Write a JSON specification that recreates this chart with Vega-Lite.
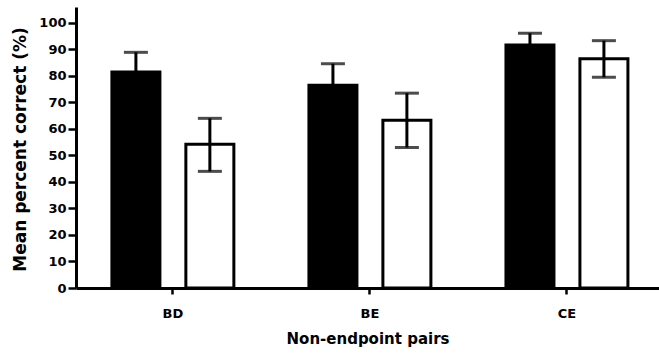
{
  "$schema": "https://vega.github.io/schema/vega-lite/v6.json",
  "width": 583,
  "height": 281,
  "autosize": {"type": "none"},
  "padding": {"left": 76, "top": 7, "right": 0, "bottom": 66},
  "background": "white",
  "config": {
    "view": {"stroke": null},
    "font": "DejaVu Sans",
    "axisY": {
      "tickCount": 11,
      "labelOverlap": false,
      "labelFont": "DejaVu Sans",
      "labelFontWeight": "bold",
      "labelFontSize": 13,
      "labelColor": "black",
      "labelPadding": 2,
      "tickSize": 8,
      "tickWidth": 2.5,
      "tickColor": "black",
      "domainWidth": 3,
      "domainColor": "black",
      "grid": false,
      "titleFont": "DejaVu Sans",
      "titleFontWeight": "bold",
      "titleFontSize": 17,
      "titleColor": "black",
      "titleAngle": -90,
      "titleBaseline": "middle",
      "titleAlign": "center",
      "titleX": -56,
      "titleY": 142
    },
    "axisX": {
      "labelAngle": 0,
      "labelFont": "DejaVu Sans",
      "labelFontWeight": "bold",
      "labelFontSize": 13,
      "labelColor": "black",
      "labelBaseline": "alphabetic",
      "labelPadding": 23,
      "tickSize": 6,
      "tickWidth": 2.5,
      "tickColor": "black",
      "domainWidth": 3,
      "domainColor": "black",
      "grid": false,
      "titleFont": "DejaVu Sans",
      "titleFontWeight": "bold",
      "titleFontSize": 15,
      "titleColor": "black",
      "titleBaseline": "alphabetic",
      "titleY": 55
    }
  },
  "data": {
    "values": [
      {"pair": "BD", "group": "A", "mean": 81.5, "lo": 74.1, "hi": 88.9},
      {"pair": "BD", "group": "B", "mean": 54.2, "lo": 44.0, "hi": 64.0},
      {"pair": "BE", "group": "A", "mean": 76.5, "lo": 68.4, "hi": 84.6},
      {"pair": "BE", "group": "B", "mean": 63.3, "lo": 53.0, "hi": 73.5},
      {"pair": "CE", "group": "A", "mean": 91.7, "lo": 87.3, "hi": 96.1},
      {"pair": "CE", "group": "B", "mean": 86.5, "lo": 79.5, "hi": 93.3}
    ]
  },
  "encoding": {
    "x": {
      "field": "pair",
      "type": "nominal",
      "title": "Non-endpoint pairs",
      "scale": {"paddingInner": 0.381, "paddingOuter": 0.17, "align": 0.536}
    },
    "xOffset": {
      "field": "group",
      "type": "nominal",
      "scale": {"paddingInner": 0.351, "paddingOuter": 0}
    }
  },
  "layer": [
    {
      "mark": {"type": "bar", "stroke": "black", "strokeWidth": 3},
      "encoding": {
        "y": {
          "field": "mean",
          "type": "quantitative",
          "title": "Mean percent correct (%)",
          "scale": {"domain": [0, 106], "nice": false}
        },
        "fill": {
          "field": "group",
          "type": "nominal",
          "scale": {"domain": ["A", "B"], "range": ["black", "white"]},
          "legend": null
        }
      }
    },
    {
      "mark": {"type": "rule", "strokeWidth": 3, "color": "black"},
      "encoding": {
        "y": {"field": "lo", "type": "quantitative", "title": "Mean percent correct (%)"},
        "y2": {"field": "hi"}
      }
    },
    {
      "mark": {"type": "tick", "orient": "horizontal", "size": 24, "thickness": 3, "color": "black"},
      "encoding": {
        "y": {"field": "hi", "type": "quantitative", "title": "Mean percent correct (%)"}
      }
    },
    {
      "mark": {"type": "tick", "orient": "horizontal", "size": 24, "thickness": 3, "color": "black"},
      "encoding": {
        "y": {"field": "lo", "type": "quantitative", "title": "Mean percent correct (%)"}
      }
    }
  ]
}
